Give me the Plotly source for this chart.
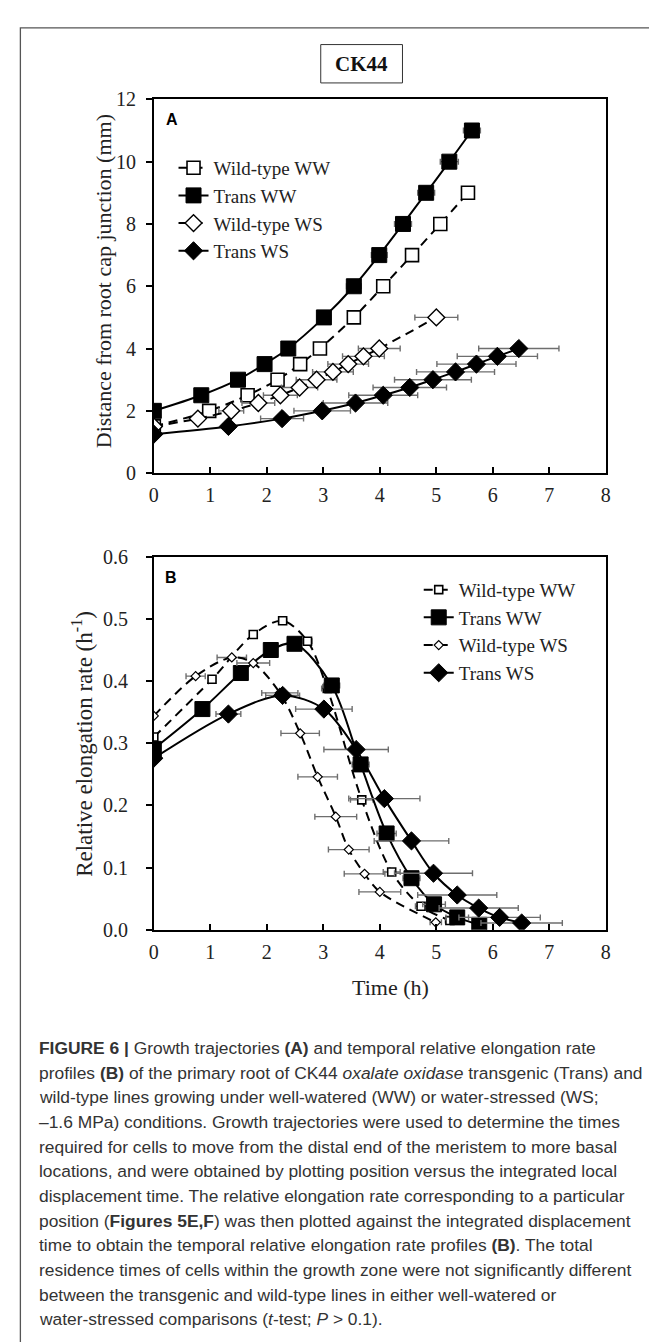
import plotly.graph_objects as go

W, H = 657, 1342


def px(x):
    return x / W


def py(y):
    return 1 - y / H


# ---------------- Panel A: growth trajectories ----------------
series_names = ["Wild-type WW", "Trans WW", "Wild-type WS", "Trans WS"]

a_wt_ww_t = [0, 0.98, 1.66, 2.19, 2.59, 2.94, 3.54, 4.06, 4.57, 5.07, 5.56]
a_wt_ww_d = [1.5, 2, 2.5, 3, 3.5, 4, 5, 6, 7, 8, 9]
a_wt_ww_e = [0.05, 0.05, 0.06, 0.06, 0.07, 0.07, 0.08, 0.08, 0.09, 0.1, 0.1]

a_tr_ww_t = [0, 0.84, 1.49, 1.96, 2.38, 3.01, 3.54, 3.99, 4.41, 4.82, 5.23, 5.63]
a_tr_ww_d = [2, 2.5, 3, 3.5, 4, 5, 6, 7, 8, 9, 10, 11]
a_tr_ww_e = [0.05, 0.06, 0.07, 0.08, 0.1, 0.12, 0.13, 0.14, 0.15, 0.15, 0.16, 0.15]

a_wt_ws_t = [0, 0.78, 1.37, 1.85, 2.24, 2.58, 2.88, 3.17, 3.44, 3.71, 3.99, 5.0]
a_wt_ws_d = [1.5, 1.75, 2, 2.25, 2.5, 2.75, 3, 3.25, 3.5, 3.75, 4, 5]
a_wt_ws_e = [0.05, 0.1, 0.22, 0.29, 0.3, 0.32, 0.36, 0.36, 0.36, 0.37, 0.37, 0.38]

a_tr_ws_t = [0, 1.32, 2.27, 2.98, 3.57, 4.06, 4.53, 4.94, 5.34, 5.71, 6.08, 6.46]
a_tr_ws_d = [1.25, 1.5, 1.75, 2, 2.25, 2.5, 2.75, 3, 3.25, 3.5, 3.75, 4]
a_tr_ws_e = [0.05, 0.1, 0.38, 0.5, 0.57, 0.61, 0.65, 0.68, 0.69, 0.7, 0.71, 0.71]

# ---------------- Panel B: relative elongation rate ----------------
b_wt_ww_t = [0, 1.03, 1.76, 2.28, 2.72, 3.07, 3.68, 4.21, 4.73, 5.24]
b_wt_ww_r = [0.310, 0.403, 0.475, 0.497, 0.464, 0.388, 0.209, 0.093, 0.038, 0.015]
b_wt_ww_e = [0.03, 0.05, 0.06, 0.07, 0.08, 0.1, 0.2, 0.15, 0.1, 0.08]

b_tr_ww_t = [0, 0.86, 1.54, 2.07, 2.49, 3.15, 3.66, 4.12, 4.56, 4.96, 5.37, 5.76]
b_tr_ww_r = [0.291, 0.355, 0.413, 0.450, 0.460, 0.393, 0.266, 0.155, 0.083, 0.041, 0.020, 0.008]
b_tr_ww_e = [0.03, 0.05, 0.06, 0.07, 0.1, 0.14, 0.15, 0.17, 0.15, 0.2, 0.2, 0.1]

b_wt_ws_t = [0, 0.74, 1.38, 1.76, 2.23, 2.59, 2.9, 3.22, 3.45, 3.73, 4.0, 4.99]
b_wt_ws_r = [0.344, 0.408, 0.438, 0.429, 0.381, 0.316, 0.246, 0.182, 0.129, 0.090, 0.061, 0.012]
b_wt_ws_e = [0.03, 0.17, 0.26, 0.29, 0.32, 0.34, 0.35, 0.37, 0.36, 0.36, 0.37, 0.1]

b_tr_ws_t = [0, 1.32, 2.28, 3.01, 3.58, 4.08, 4.56, 4.95, 5.37, 5.75, 6.12, 6.51]
b_tr_ws_r = [0.276, 0.347, 0.377, 0.355, 0.290, 0.211, 0.143, 0.091, 0.056, 0.035, 0.020, 0.011]
b_tr_ws_e = [0.03, 0.22, 0.3, 0.5, 0.57, 0.63, 0.66, 0.69, 0.7, 0.7, 0.72, 0.72]

x_ticks = [0, 1, 2, 3, 4, 5, 6, 7, 8]
a_y_ticks = [0, 2, 4, 6, 8, 10, 12]
b_y_ticks = [0.0, 0.1, 0.2, 0.3, 0.4, 0.5, 0.6]

caption_lines = [
    "<b>FIGURE 6 |</b> Growth trajectories <b>(A)</b> and temporal relative elongation rate",
    "profiles <b>(B)</b> of the primary root of CK44 <i>oxalate oxidase</i> transgenic (Trans) and",
    "wild-type lines growing under well-watered (WW) or water-stressed (WS;",
    "\u20131.6 MPa) conditions. Growth trajectories were used to determine the times",
    "required for cells to move from the distal end of the meristem to more basal",
    "locations, and were obtained by plotting position versus the integrated local",
    "displacement time. The relative elongation rate corresponding to a particular",
    "position (<b>Figures 5E,F</b>) was then plotted against the integrated displacement",
    "time to obtain the temporal relative elongation rate profiles <b>(B)</b>. The total",
    "residence times of cells within the growth zone were not significantly different",
    "between the transgenic and wild-type lines in either well-watered or",
    "water-stressed comparisons (<i>t</i>-test; <i>P</i> &gt; 0.1).",
]

SERIF = "Liberation Serif, Times New Roman, serif"
SANS = "Liberation Sans, Arial, sans-serif"
ERR_COLOR = "#6e6e6e"
DASH = "9px,6px"

fig = go.Figure()


def add(t, v, e, name, xa, ya, legend, dash, symbol, size, fill, lw_marker):
    fig.add_trace(go.Scatter(
        x=t, y=v, name=name, mode="lines+markers",
        xaxis=xa, yaxis=ya, legend=legend,
        line=dict(color="black", width=2, dash=dash, shape="spline", smoothing=0.9),
        marker=dict(symbol=symbol, size=size, color=fill,
                    line=dict(color="black", width=lw_marker)),
        error_x=dict(type="data", array=e, visible=True, color=ERR_COLOR,
                     thickness=1.4, width=3),
    ))


# Panel A traces
add(a_wt_ww_t, a_wt_ww_d, a_wt_ww_e, series_names[0], "x", "y", "legend", DASH, "square", 13, "white", 1.6)
add(a_tr_ww_t, a_tr_ww_d, a_tr_ww_e, series_names[1], "x", "y", "legend", "solid", "square", 15, "black", 1)
add(a_wt_ws_t, a_wt_ws_d, a_wt_ws_e, series_names[2], "x", "y", "legend", DASH, "diamond", 13, "white", 1.4)
add(a_tr_ws_t, a_tr_ws_d, a_tr_ws_e, series_names[3], "x", "y", "legend", "solid", "diamond", 14, "black", 1)

# Panel B traces
add(b_wt_ww_t, b_wt_ww_r, b_wt_ww_e, series_names[0], "x2", "y2", "legend2", DASH, "square", 8, "white", 1.6)
add(b_tr_ww_t, b_tr_ww_r, b_tr_ww_e, series_names[1], "x2", "y2", "legend2", "solid", "square", 15, "black", 1)
add(b_wt_ws_t, b_wt_ws_r, b_wt_ws_e, series_names[2], "x2", "y2", "legend2", DASH, "diamond", 7, "white", 1.2)
add(b_tr_ws_t, b_tr_ws_r, b_tr_ws_e, series_names[3], "x2", "y2", "legend2", "solid", "diamond", 14, "black", 1)

axis_common = dict(
    showline=True, linecolor="black", linewidth=1.8, mirror=True,
    showgrid=False, zeroline=False,
    tickfont=dict(family=SERIF, size=20, color="#222"),
    tickcolor="black", tickwidth=1.5, ticklen=6,
)

fig.update_layout(
    width=W, height=H,
    margin=dict(l=0, r=0, t=0, b=0),
    paper_bgcolor="white", plot_bgcolor="white",
    showlegend=True,
    xaxis=dict(domain=[px(143), px(602)], range=[0, 8], anchor="y",
               tickvals=x_ticks, ticks="inside", ticklabelstandoff=3, **axis_common),
    yaxis=dict(domain=[py(461.7), py(81.7)], range=[0, 12], anchor="x",
               tickvals=a_y_ticks, ticks="outside", ticklabelstandoff=6, **axis_common),
    xaxis2=dict(domain=[px(143), px(602)], range=[0, 8], anchor="y2",
                tickvals=x_ticks, ticks="inside", ticklabelstandoff=3, **axis_common),
    yaxis2=dict(domain=[py(926), py(546.7)], range=[0, 0.6], anchor="x2",
                tickvals=b_y_ticks, tickformat=".1f", ticks="outside", ticklabelstandoff=14,
                **axis_common),
    legend=dict(x=px(163), y=py(132), xanchor="left", yanchor="top",
                bgcolor="rgba(0,0,0,0)", font=dict(family=SERIF, size=19, color="#222"),
                itemclick=False, tracegroupgap=0),
    legend2=dict(x=px(412), y=py(561), xanchor="left", yanchor="top",
                 bgcolor="rgba(0,0,0,0)", font=dict(family=SERIF, size=19, color="#222"),
                 itemclick=False, tracegroupgap=0),
)


def note(text, x, y, size, family, color="#222", angle=0):
    return dict(text=text, x=px(x), y=py(y), xref="paper", yref="paper",
                xanchor="center", yanchor="middle", showarrow=False, textangle=angle,
                font=dict(family=family, size=size, color=color))


annotations = [
    note("<b>CK44</b>", 354, 45.5, 21, SERIF, "#111"),
    note("<b>A</b>", 161, 102, 16, SANS, "black"),
    note("<b>B</b>", 160, 568, 16, SANS, "black"),
    note("Distance from root cap junction (mm)", 92, 267, 22, SERIF, angle=-90),
    note("Relative elongation rate (h<sup>-1</sup>)", 71, 737, 23, SERIF, angle=-90),
    note("Time (h)", 383, 985, 22, SERIF),
]

for i, line in enumerate(caption_lines):
    annotations.append(dict(
        text=line, x=px(24), y=py(1046 + 25.1 * i), xref="paper", yref="paper",
        xanchor="left", yanchor="middle", showarrow=False, align="left",
        font=dict(family=SANS, size=17.4, color="#333"),
    ))

fig.update_layout(annotations=annotations)

fig.update_layout(shapes=[
    # outer frame (right and bottom edges run off the image)
    dict(type="rect", xref="paper", yref="paper", x0=px(7.5), x1=px(700),
         y0=py(9), y1=py(1400), line=dict(color="#555", width=1.3), fillcolor="rgba(0,0,0,0)"),
    # CK44 box
    dict(type="rect", xref="paper", yref="paper", x0=px(312.5), x1=px(395.5),
         y0=py(26), y1=py(65), line=dict(color="#333", width=1), fillcolor="rgba(0,0,0,0)"),
])

fig.write_html("out.html")
